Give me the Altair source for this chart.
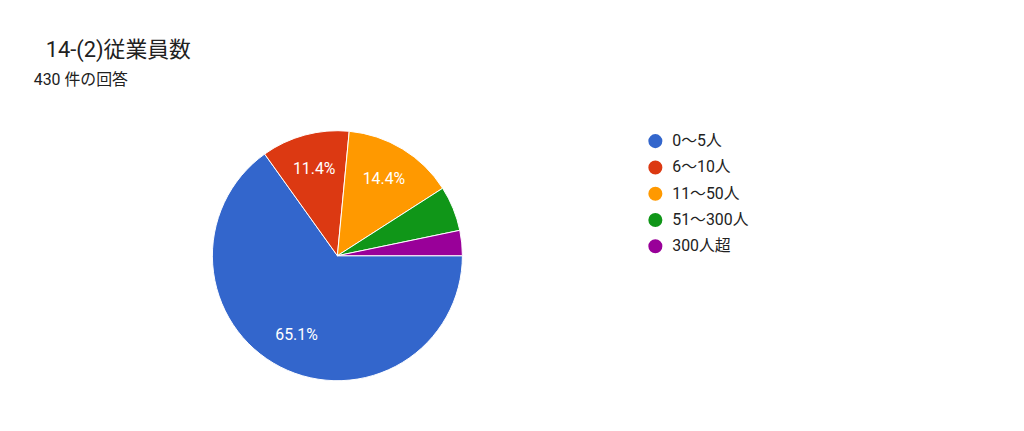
import math
import altair as alt
import pandas as pd

title_text = "14-(2)従業員数"
subtitle_text = "430 件の回答"
categories = ["0～5人", "6～10人", "11～50人", "51～300人", "300人超"]
counts = [280, 49, 62, 25, 14]
colors = ["#3366cc", "#dc3912", "#ff9900", "#109618", "#990099"]

df = pd.DataFrame({"category": categories, "count": counts, "idx": list(range(len(categories)))})

FONT = "Roboto, 'Noto Sans CJK JP', sans-serif"

theta = alt.Theta("count:Q", stack=True,
                  scale=alt.Scale(range=[math.pi / 2, math.pi / 2 + 2 * math.pi]))

base = alt.Chart(df)

arcs = base.mark_arc(outerRadius=126, stroke="white", strokeWidth=1).encode(
    theta=theta,
    order=alt.Order("idx:Q"),
    color=alt.Color(
        "category:N",
        sort=categories,
        scale=alt.Scale(domain=categories, range=colors),
        legend=alt.Legend(
            title=None, orient="none", legendX=462.5, legendY=26.5,
            symbolType="circle", symbolSize=200, symbolStrokeWidth=0,
            labelFontSize=16, labelFont=FONT, labelColor="#222222",
            rowPadding=10.5, labelOffset=9, padding=0,
        ),
    ),
)

labels = base.transform_joinaggregate(total="sum(count)").transform_calculate(
    label="datum.count / datum.total >= 0.1 ? format(datum.count / datum.total * 100, '.1f') + '%' : ''"
).mark_text(radius=90, fontSize=16, font=FONT, baseline="middle", align="center").encode(
    theta=theta,
    order=alt.Order("idx:Q"),
    detail="category:N",
    color=alt.value("white"),
    text="label:N",
)

heading = alt.Chart(pd.DataFrame({"t": [title_text]})).mark_text(
    align="left", baseline="alphabetic", font=FONT, fontSize=22, color="#212121"
).encode(text="t:N", x=alt.value(-144), y=alt.value(-50))

subtitle = alt.Chart(pd.DataFrame({"t": [subtitle_text]})).mark_text(
    align="left", baseline="alphabetic", font=FONT, fontSize=16, color="#212121"
).encode(text="t:N", x=alt.value(-156), y=alt.value(-22))

chart = alt.layer(arcs, labels, heading, subtitle).properties(
    width=300,
    height=300,
    autosize=alt.AutoSizeParams(type="none"),
    padding={"left": 182, "top": 98, "right": 534, "bottom": 25},
).configure_view(stroke=None)

chart.save("out.html", embed_options={"renderer": "svg", "actions": False})
